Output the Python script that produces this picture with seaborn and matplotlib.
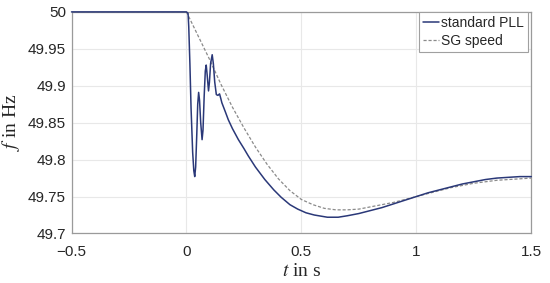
import numpy as np
import pandas as pd
import matplotlib
matplotlib.use('Agg')
import matplotlib.pyplot as plt
import seaborn as sns

# dane
t_pll = [-0.5, 0.0, 0.007, 0.010, 0.015, 0.020, 0.027, 0.032, 0.036, 0.040,
         0.045, 0.049, 0.053, 0.057, 0.062, 0.068, 0.072, 0.077, 0.082, 0.086,
         0.090, 0.096, 0.100, 0.105, 0.112, 0.117, 0.123, 0.130, 0.137, 0.144,
         0.150, 0.154, 0.170, 0.182, 0.200, 0.226, 0.250, 0.269, 0.300, 0.341,
         0.380, 0.412, 0.450, 0.484, 0.520, 0.556, 0.613, 0.660, 0.700, 0.750,
         0.800, 0.850, 0.900, 0.950, 1.000, 1.050, 1.100, 1.150, 1.200, 1.250,
         1.300, 1.350, 1.400, 1.450, 1.500]
f_pll = [50.0, 50.0, 49.998, 49.98, 49.93, 49.87, 49.81, 49.785, 49.777, 49.79,
         49.835, 49.875, 49.891, 49.88, 49.85, 49.827, 49.84, 49.885, 49.92, 49.928,
         49.915, 49.893, 49.905, 49.93, 49.942, 49.93, 49.905, 49.888, 49.887, 49.889,
         49.882, 49.877, 49.864, 49.854, 49.842, 49.827, 49.815, 49.805, 49.790, 49.773,
         49.759, 49.749, 49.739, 49.733, 49.728, 49.725, 49.722, 49.722, 49.724, 49.727,
         49.731, 49.735, 49.740, 49.745, 49.750, 49.755, 49.759, 49.763, 49.767, 49.770,
         49.773, 49.775, 49.776, 49.777, 49.777]

t_sg = [-0.5, 0.0, 0.05, 0.10, 0.15, 0.20, 0.25, 0.30, 0.35, 0.40, 0.45, 0.50,
        0.55, 0.60, 0.65, 0.70, 0.75, 0.80, 0.85, 0.90, 0.95, 1.00, 1.05, 1.10,
        1.15, 1.20, 1.25, 1.30, 1.35, 1.40, 1.45, 1.50]
f_sg = [50.0, 50.0, 49.968, 49.936, 49.902, 49.871, 49.843, 49.817, 49.794, 49.774,
        49.758, 49.746, 49.739, 49.734, 49.732, 49.732, 49.733, 49.736, 49.739,
        49.742, 49.746, 49.750, 49.754, 49.758, 49.762, 49.765, 49.768, 49.770,
        49.772, 49.773, 49.774, 49.775]

x_ticks = [-0.5, 0, 0.5, 1, 1.5]
x_labels = ['\u22120.5', '0', '0.5', '1', '1.5']
y_ticks = [49.7, 49.75, 49.8, 49.85, 49.9, 49.95, 50.0]
y_labels = ['49.7', '49.75', '49.8', '49.85', '49.9', '49.95', '50']

pll = pd.DataFrame({'t': t_pll, 'f': f_pll})
sg = pd.DataFrame({'t': t_sg, 'f': f_sg})

sns.set_style('whitegrid')
plt.rcParams['font.family'] = ['Liberation Sans', 'DejaVu Sans']
plt.rcParams['mathtext.fontset'] = 'stix'

fig = plt.figure(figsize=(5.5, 2.83), dpi=100)
ax = fig.add_axes([0.130, 0.175, 0.836, 0.783])

sns.lineplot(data=pll, x='t', y='f', ax=ax, color='#2a3878', linewidth=1.1,
             label='standard PLL', clip_on=False, zorder=5)
sns.lineplot(data=sg, x='t', y='f', ax=ax, color='#8a8a8a', linewidth=0.9,
             linestyle=(0, (2.5, 1.5)), label='SG speed', zorder=4)

ax.set_xlim(-0.5, 1.5)
ax.set_ylim(49.7, 50.0)
ax.set_xticks(x_ticks)
ax.set_xticklabels(x_labels)
ax.set_yticks(y_ticks)
ax.set_yticklabels(y_labels)
ax.tick_params(labelsize=11, colors='#262626', length=0)
ax.tick_params(axis='x', pad=8)
ax.tick_params(axis='y', pad=4)
ax.grid(color='#e8e8e8', linewidth=0.8)
for s in ax.spines.values():
    s.set_color('#9a9a9a')
    s.set_linewidth(0.9)

ax.set_xlabel(r'$t$ in s', fontfamily='Liberation Serif', fontsize=14,
              color='#262626', labelpad=3)
ax.set_ylabel(r'$f$ in Hz', fontfamily='Liberation Serif', fontsize=14,
              color='#262626', labelpad=4)

leg = ax.legend(loc='upper right', bbox_to_anchor=(1 - 3.5 / 460, 1.0),
                fontsize=10, handlelength=1.15, handletextpad=0.1,
                borderpad=0.3, labelspacing=0.3, fancybox=False,
                framealpha=1, borderaxespad=0)
leg.get_frame().set_edgecolor('#a0a0a0')
leg.get_frame().set_linewidth(0.8)

plt.savefig('out.png', dpi=100)
plt.close()
